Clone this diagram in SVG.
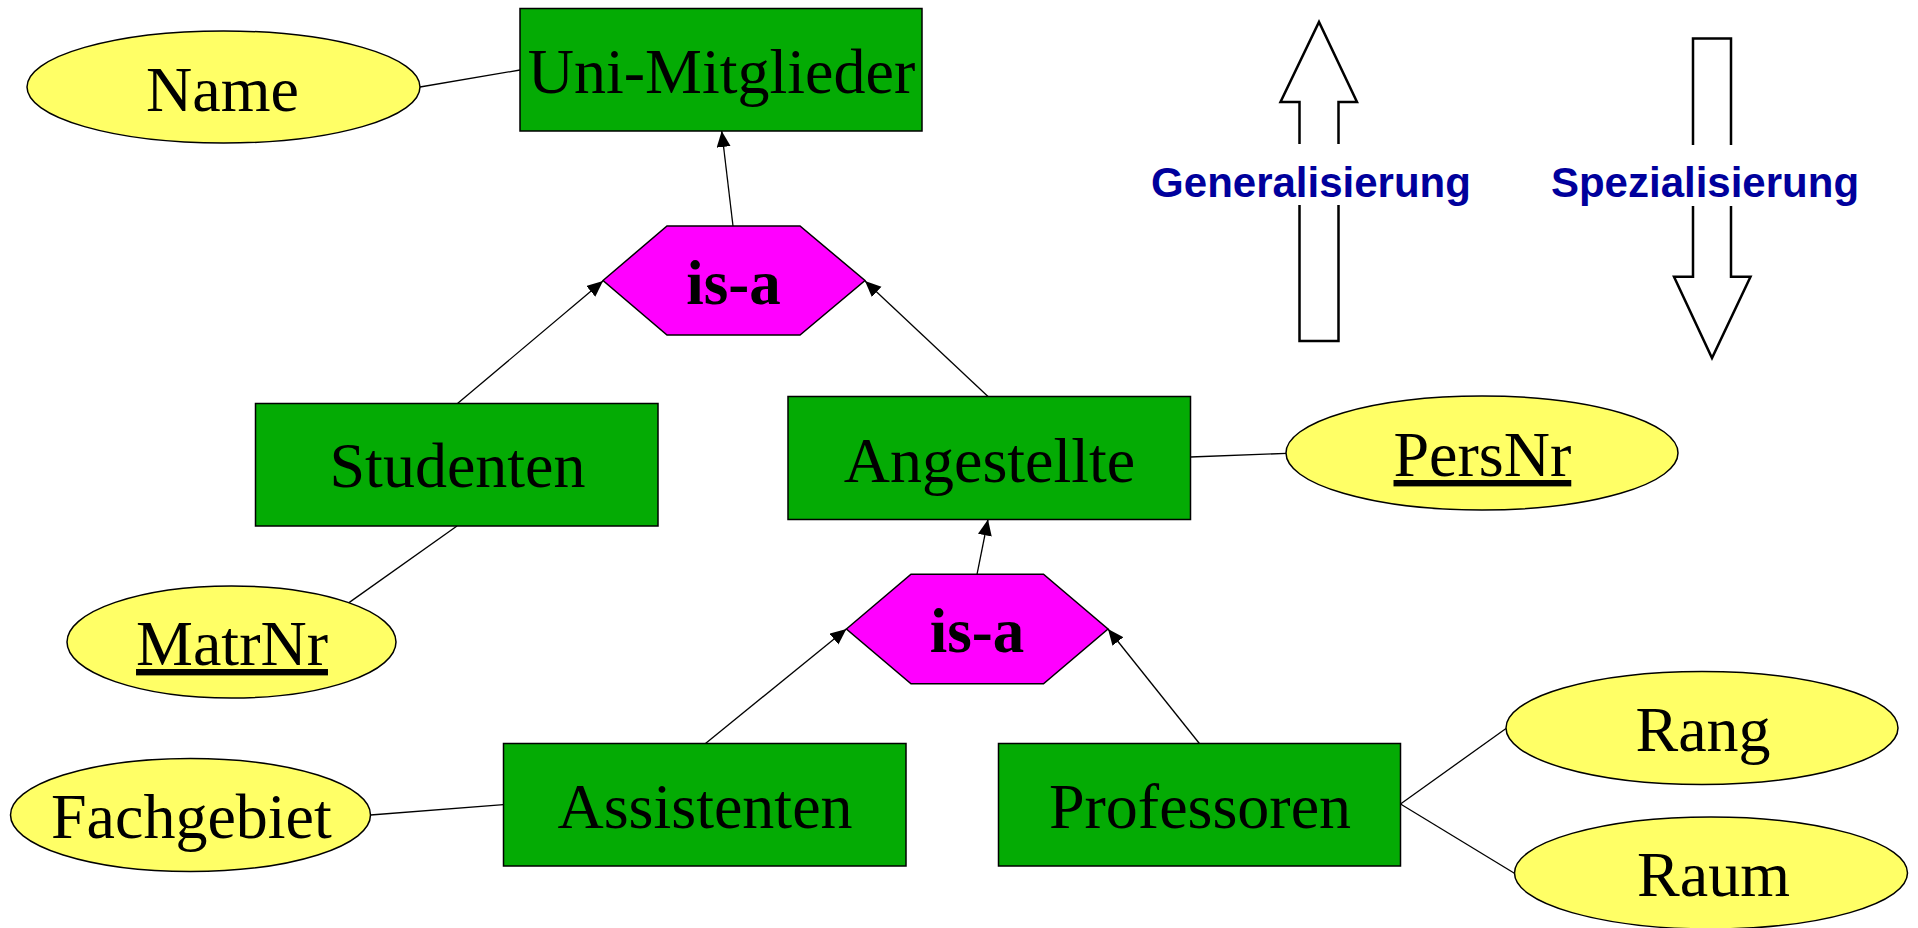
<svg xmlns="http://www.w3.org/2000/svg" width="1918" height="928" viewBox="0 0 1918 928">
<style>
.ent{fill:#04ab04;stroke:#000;stroke-width:1.5}
.att{fill:#ffff66;stroke:#000;stroke-width:1.5}
.isa{fill:#ff00ff;stroke:#000;stroke-width:1.5}
.lbl{font-family:"Liberation Serif","Times New Roman",serif;font-size:64px;fill:#000;text-anchor:middle}
.key{text-decoration:underline}
.isat{font-family:"Liberation Serif","Times New Roman",serif;font-size:63px;font-weight:bold;fill:#000;text-anchor:middle}
.dir{font-family:"Liberation Sans",Arial,sans-serif;font-size:42px;font-weight:bold;fill:#00009c;text-anchor:middle}
.bigarrow{fill:none;stroke:#000;stroke-width:2.5;stroke-linejoin:miter}
.con line{stroke:#000;stroke-width:1.3}
.arr{marker-end:url(#ah)}
</style>
<defs>
<marker id="ah" markerUnits="userSpaceOnUse" markerWidth="17" markerHeight="15" refX="16" refY="7" orient="auto">
<path d="M0,0 L16,7 L0,14 z" fill="#000"/>
</marker>
</defs>
<rect width="1918" height="928" fill="#fff"/>

<g id="connectors" class="con">
<line x1="420" y1="87" x2="520" y2="70"/>
<line class="arr" x1="733" y1="226" x2="721.7" y2="131"/>
<line class="arr" x1="457.5" y1="403.5" x2="603" y2="281"/>
<line class="arr" x1="988" y1="396.5" x2="865" y2="281"/>
<line x1="457" y1="526" x2="349" y2="602.6"/>
<line x1="1190.5" y1="457" x2="1286.6" y2="453.4"/>
<line class="arr" x1="977" y1="574.3" x2="988" y2="519.5"/>
<line class="arr" x1="705.5" y1="743.5" x2="846.4" y2="629"/>
<line class="arr" x1="1199.4" y1="743.5" x2="1108" y2="629"/>
<line x1="370.5" y1="815" x2="503.5" y2="804.7"/>
<line x1="1400.5" y1="804" x2="1506" y2="728.5"/>
<line x1="1400.5" y1="804" x2="1514.8" y2="873.5"/>
</g>

<g id="uni-mitglieder">
<rect class="ent" x="520" y="8.5" width="402" height="122.5"/>
<text class="lbl" x="721.5" y="93">Uni-Mitglieder</text>
</g>
<g id="name">
<ellipse class="att" cx="223.5" cy="87" rx="196.5" ry="56"/>
<text class="lbl" x="222.5" y="111">Name</text>
</g>
<g id="isa1">
<polygon class="isa" points="603,280.5 667,226 800,226 865,280.5 800,335 667,335"/>
<text class="isat" x="733.5" y="303.5">is-a</text>
</g>
<g id="studenten">
<rect class="ent" x="255.5" y="403.5" width="402.5" height="122.5"/>
<text class="lbl" x="457.5" y="487">Studenten</text>
</g>
<g id="angestellte">
<rect class="ent" x="788" y="396.5" width="402.5" height="123"/>
<text class="lbl" x="989.5" y="481.5">Angestellte</text>
</g>
<g id="persnr">
<ellipse class="att" cx="1482" cy="453" rx="196" ry="57"/>
<text class="lbl key" x="1482.4" y="476">PersNr</text>
</g>
<g id="matrnr">
<ellipse class="att" cx="231.5" cy="642" rx="164.5" ry="56"/>
<text class="lbl key" x="232" y="665">MatrNr</text>
</g>
<g id="isa2">
<polygon class="isa" points="846.4,629 911,574.3 1043.5,574.3 1108,629 1043.5,683.7 911,683.7"/>
<text class="isat" x="977" y="651.5">is-a</text>
</g>
<g id="fachgebiet">
<ellipse class="att" cx="190.5" cy="815" rx="180" ry="56.5"/>
<text class="lbl" x="191.4" y="838">Fachgebiet</text>
</g>
<g id="assistenten">
<rect class="ent" x="503.5" y="743.5" width="402.5" height="122.5"/>
<text class="lbl" x="705" y="827.5">Assistenten</text>
</g>
<g id="professoren">
<rect class="ent" x="998.5" y="743.5" width="402" height="122.5"/>
<text class="lbl" x="1200" y="827.5">Professoren</text>
</g>
<g id="rang">
<ellipse class="att" cx="1702" cy="728" rx="196" ry="56.5"/>
<text class="lbl" x="1703" y="750.5">Rang</text>
</g>
<g id="raum">
<ellipse class="att" cx="1711" cy="873" rx="196.5" ry="56"/>
<text class="lbl" x="1713.5" y="895.5">Raum</text>
</g>

<g id="generalisierung">
<path class="bigarrow" d="M1299.5,144 V102 H1280.5 L1319,22 L1357,102 H1338.5 V144"/>
<path class="bigarrow" d="M1299.5,205 V341 H1338.5 V205"/>
<text class="dir" x="1311" y="197">Generalisierung</text>
</g>
<g id="spezialisierung">
<path class="bigarrow" d="M1693,145 V38.5 H1731 V145"/>
<path class="bigarrow" d="M1693,206 V276.7 H1674 L1712,358 L1750.5,276.7 H1731 V206"/>
<text class="dir" x="1705" y="197">Spezialisierung</text>
</g>
</svg>
